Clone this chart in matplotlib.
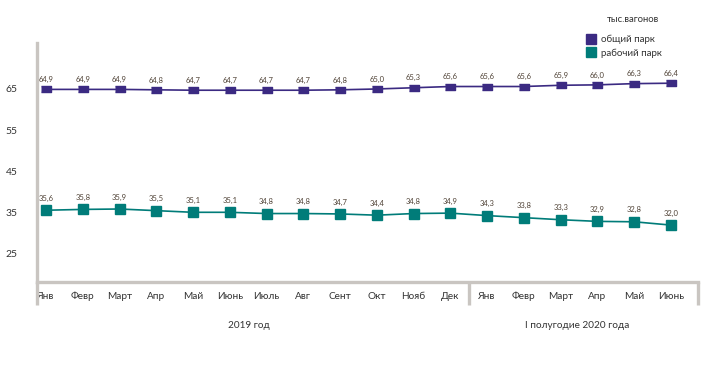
import matplotlib
matplotlib.use("Agg")
import matplotlib.pyplot as plt
from matplotlib.lines import Line2D

# ================= DATA =================
months = ["Янв", "Февр", "Март", "Апр", "Май", "Июнь", "Июль", "Авг", "Сент",
          "Окт", "Нояб", "Дек", "Янв", "Февр", "Март", "Апр", "Май", "Июнь"]
total_park = [64.9, 64.9, 64.9, 64.8, 64.7, 64.7, 64.7, 64.7, 64.8,
              65.0, 65.3, 65.6, 65.6, 65.6, 65.9, 66.0, 66.3, 66.4]
working_park = [35.6, 35.8, 35.9, 35.5, 35.1, 35.1, 34.8, 34.8, 34.7,
                34.4, 34.8, 34.9, 34.3, 33.8, 33.3, 32.9, 32.8, 32.0]
y_ticks = [25, 35, 45, 55, 65]
group_labels = ["2019 год", "I полугодие 2020 года"]
series_names = ["общий парк", "рабочий парк"]
unit_label = "тыс.вагонов"
# ========================================

PURPLE = "#3b2a82"
TEAL = "#007c79"
GRAY = "#c9c5c1"
TEXT = "#333333"
LABEL = "#4f4236"

plt.rcParams["font.family"] = ["Lato", "DejaVu Sans"]

W, H = 719, 381
fig = plt.figure(figsize=(W / 100, H / 100), dpi=100)
ax = fig.add_axes([37 / W, 1 - 282 / H, (698 - 37) / W, (282 - 43) / H])

x = list(range(len(months)))
rect = [(-1, -0.62), (1, -0.62), (1, 0.62), (-1, 0.62)]
ax.plot(x, total_park, color=PURPLE, lw=1.2, marker=rect, ms=7.5, mec=PURPLE, mfc=PURPLE)
ax.plot(x, working_park, color=TEAL, lw=1.2, marker="s", ms=7.2, mec=TEAL, mfc=TEAL)

for xi, v in zip(x, total_park):
    ax.annotate(f"{v:.1f}".replace(".", ","), (xi, v), xytext=(0, 4.5), textcoords="offset points",
                ha="center", va="bottom", fontsize=5.5, color=LABEL)
for xi, v in zip(x, working_park):
    ax.annotate(f"{v:.1f}".replace(".", ","), (xi, v), xytext=(0, 6), textcoords="offset points",
                ha="center", va="bottom", fontsize=5.5, color=LABEL)

ax.set_xlim(-0.245, 17.737)
ax.set_ylim(18.2, 76.15)
ax.set_yticks(y_ticks)
ax.set_xticks(x)
ax.set_xticklabels(months)
ax.tick_params(axis="y", length=0, pad=14, labelsize=7.5, labelcolor=TEXT)
ax.tick_params(axis="x", length=0, pad=7, labelsize=7.2, labelcolor=TEXT)

for s in ["top", "right"]:
    ax.spines[s].set_visible(False)
for s in ["left", "bottom"]:
    ax.spines[s].set_color(GRAY)
    ax.spines[s].set_linewidth(2.4)

# vertical separators extending below the axis
tr = ax.get_xaxis_transform()
for xv in [-0.245, 11.5, 17.737]:
    ax.plot([xv, xv], [0, -0.096], transform=tr, color=GRAY, lw=2.4, clip_on=False,
            solid_capstyle="butt")

fig.text(249 / W, 1 - 325 / H, group_labels[0], ha="center", va="center", fontsize=7.2, color=TEXT)
fig.text(577 / W, 1 - 325 / H, group_labels[1], ha="center", va="center", fontsize=7.2, color=TEXT)

fig.text(607 / W, 1 - 20 / H, unit_label, ha="left", va="center", fontsize=6.8, color=TEXT)
handles = [Line2D([], [], ls="none", marker="s", ms=6.5, color=PURPLE),
           Line2D([], [], ls="none", marker="s", ms=6.5, color=TEAL)]
fig.legend(handles, series_names, loc="upper left", bbox_to_anchor=(586 / W, 1 - 35 / H),
           frameon=False, fontsize=7, handletextpad=0.5, labelspacing=0.4,
           handlelength=1.0, borderaxespad=0, borderpad=0, labelcolor=TEXT)

fig.savefig("out.png", dpi=100)
